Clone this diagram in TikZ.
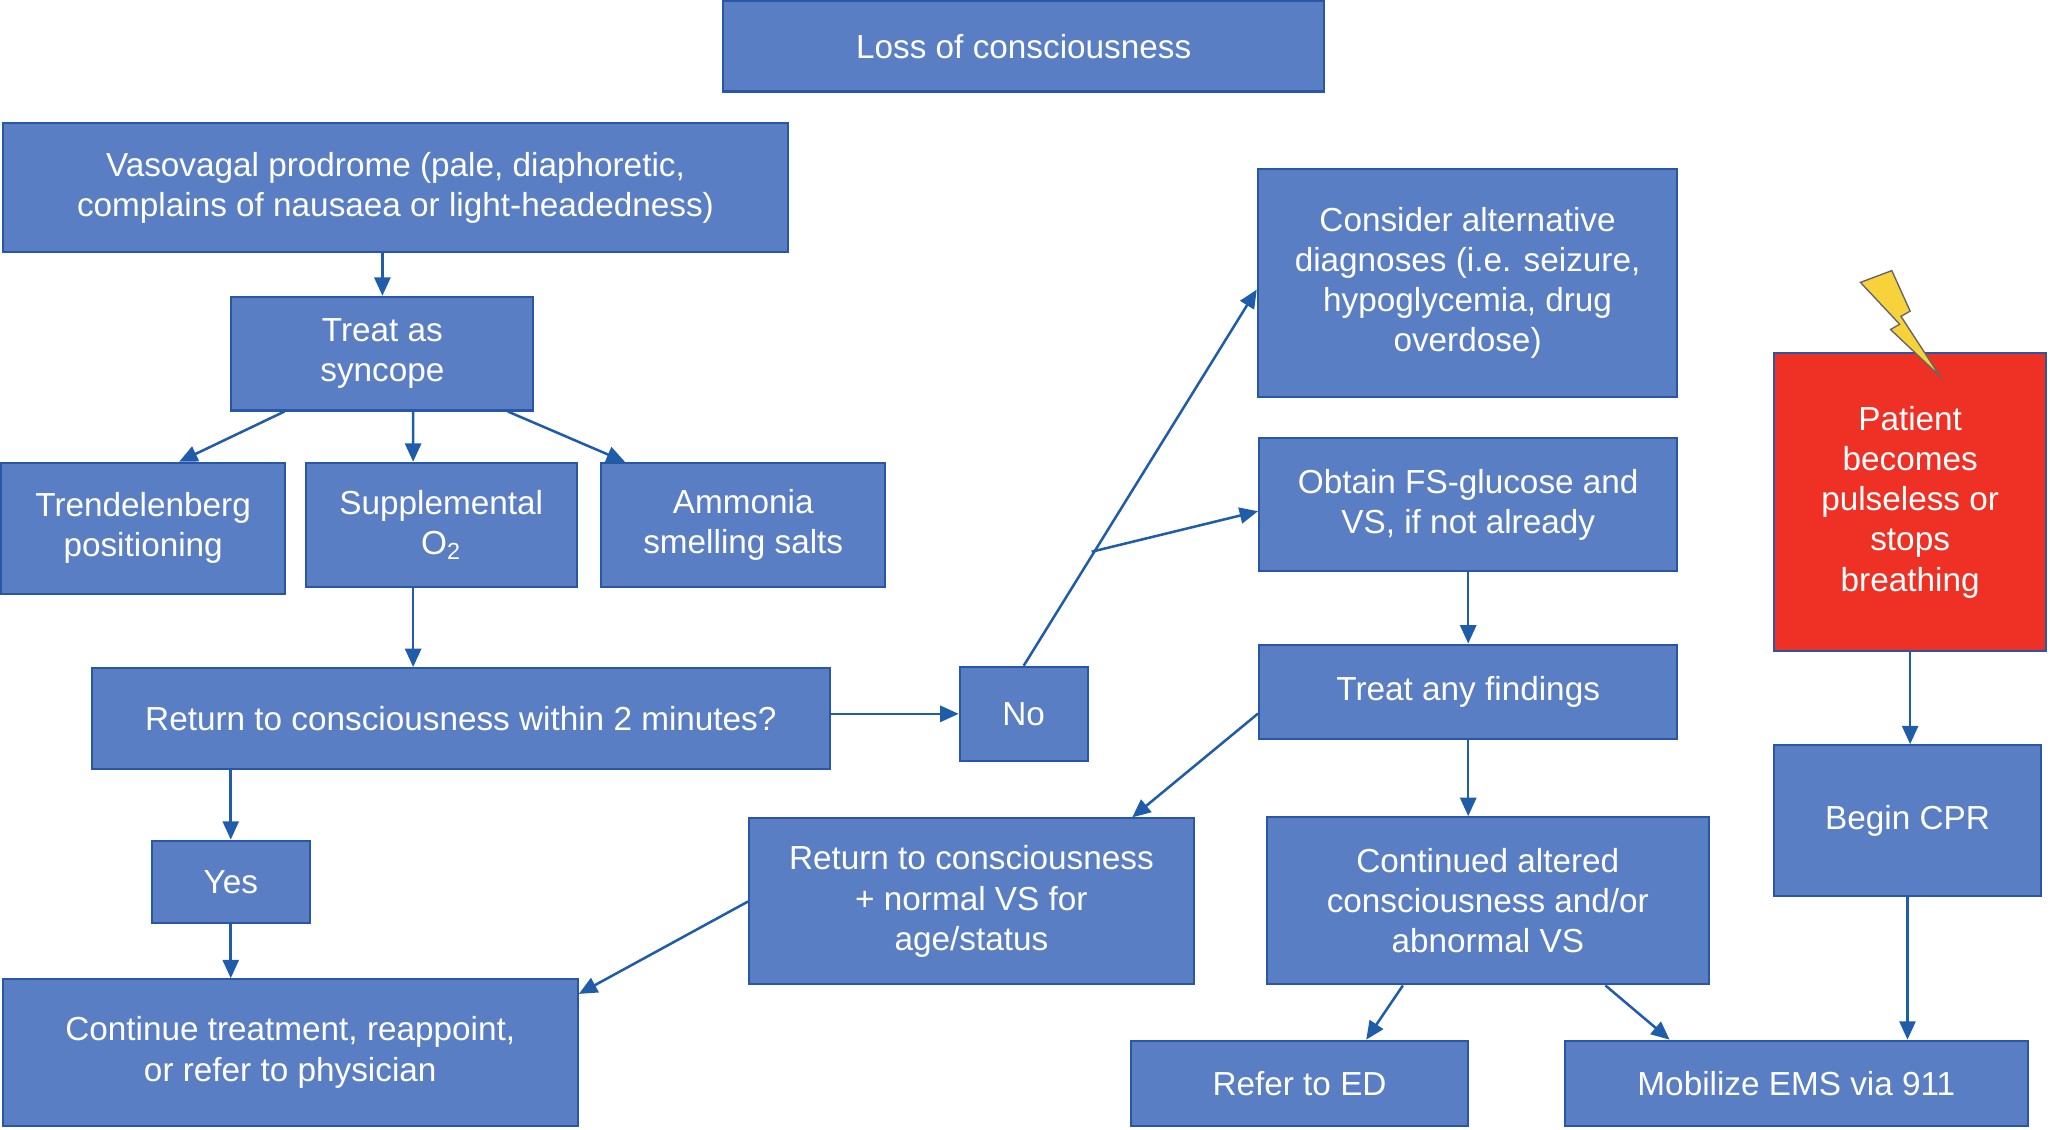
\documentclass[tikz,border=0pt]{standalone}
\usepackage{fontspec}
\setmainfont{Liberation Sans}
\usetikzlibrary{arrows.meta}
\usetikzlibrary{calc}
\definecolor{boxblue}{HTML}{5A7EC4}
\definecolor{boxline}{HTML}{2757A6}
\definecolor{arrowblue}{HTML}{1F5CAA}
\definecolor{alarmred}{HTML}{EE3124}
\definecolor{boltyellow}{HTML}{F7D23A}
\begin{document}
\begin{tikzpicture}[x=0.02cm, y=-0.02cm,
        box_style/.style={draw=boxline, line width=0.9pt, fill=boxblue, text=white, align=center,
            font=\fontsize{14.5}{17.5}\selectfont, inner sep=0pt},
        alarm_style/.style={box_style, fill=alarmred, draw=boxline},
        edge_style/.style={draw=arrowblue, line width=1.1pt, -{Triangle[width=7pt,length=8pt]}}]

        \useasboundingbox (0,0) rectangle (1568,864);

        \node [box_style, minimum width=9.2cm, minimum height=1.38cm](loss) at (783,35.5) {Loss of consciousness};
        \node [box_style, minimum width=12.02cm, minimum height=1.98cm](vaso) at (302.5,143.5) {Vasovagal prodrome (pale, diaphoretic,\\complains of nausaea or light-headedness)};
        \node [box_style, minimum width=4.62cm, minimum height=1.74cm](treat) at (292.5,270.5) {Treat as\\syncope};
        \node [box_style, minimum width=4.34cm, minimum height=2cm](trend) at (109.5,404) {Trendelenberg\\positioning};
        \node [box_style, minimum width=4.14cm, minimum height=1.9cm](supp) at (337.5,401.5) {Supplemental\\O\textsubscript{2}};
        \node [box_style, minimum width=4.34cm, minimum height=1.9cm](ammo) at (568.5,401.5) {Ammonia\\smelling salts};
        \node [box_style, minimum width=11.3cm, minimum height=1.54cm](ret) at (352.5,549.5) {Return to consciousness within 2 minutes?};
        \node [box_style, minimum width=1.96cm, minimum height=1.44cm](no) at (783,546) {No};
        \node [box_style, minimum width=2.42cm, minimum height=1.26cm](yes) at (176.5,674.5) {Yes};
        \node [box_style, minimum width=8.8cm, minimum height=2.24cm](cont) at (222,805) {Continue treatment, reappoint,\\or refer to physician};
        \node [box_style, minimum width=6.42cm, minimum height=3.5cm](alt) at (1122.5,216.5) {Consider alternative\\diagnoses (i.e. seizure,\\hypoglycemia, drug\\overdose)};
        \node [box_style, minimum width=6.4cm, minimum height=2.04cm](obtain) at (1123,386) {Obtain FS-glucose and\\VS, if not already};
        \node [box_style, minimum width=6.4cm, minimum height=1.44cm](anyf) at (1123,529) {Treat any findings};
        \node [box_style, minimum width=6.8cm, minimum height=2.54cm](retn) at (743,689.5) {Return to consciousness\\+ normal VS for\\age/status};
        \node [box_style, minimum width=6.76cm, minimum height=2.56cm](contalt) at (1138,689) {Continued altered\\consciousness and/or\\abnormal VS};
        \node [box_style, minimum width=5.16cm, minimum height=1.3cm](refer) at (994,828.5) {Refer to ED};
        \node [box_style, minimum width=7.08cm, minimum height=1.3cm](mob) at (1374,828.5) {Mobilize EMS via 911};
        \node [alarm_style, minimum width=4.16cm, minimum height=4.56cm](patient) at (1461,384) {Patient\\becomes\\pulseless or\\stops\\breathing};
        \node [box_style, minimum width=4.08cm, minimum height=2.3cm](cpr) at (1459,627.5) {Begin CPR};

        % lightning bolt
        \draw [draw=black!60, fill=boltyellow, line width=0.6pt]
            (1423,216) -- (1447,207) -- (1461,238) -- (1454,242) -- (1484,288)
            -- (1446,252) -- (1453,248) -- cycle;

        \coordinate (fork) at (835,422);
        \coordinate (supp_out) at ([xshift=-0.43cm]supp.south);

        \draw [edge_style] (vaso.south -| treat.north) -- (treat.north);
        \draw [edge_style] ([xshift=-1.5cm]treat.south) -- ([xshift=0.55cm]trend.north);
        \draw [edge_style] ([xshift=0.47cm]treat.south) -- ([xshift=-0.43cm]supp.north);
        \draw [edge_style] ([xshift=1.92cm]treat.south) -- ([xshift=-1.81cm]ammo.north);
        \draw [edge_style] (supp_out) -- (supp_out |- ret.north);
        \draw [edge_style] (ret.east |- no.west) -- (no.west);
        \draw [edge_style] (yes.north |- ret.south) -- (yes.north);
        \draw [edge_style] (yes.south) -- (yes.south |- cont.north);
        \draw [edge_style] (no.north) -- ([yshift=-0.1cm]alt.west);
        \draw [edge_style] (fork) -- ([yshift=-0.1cm]obtain.west);
        \draw [edge_style] ([yshift=0.4cm]anyf.south west) -- ([xshift=2.46cm]retn.north);
        \draw [edge_style] (obtain.south) -- (anyf.north);
        \draw [edge_style] (anyf.south) -- (anyf.south |- contalt.north);
        \draw [edge_style] (retn.west) -- ([yshift=-0.24cm]cont.north east);
        \draw [edge_style] ([xshift=-1.3cm]contalt.south) -- ([xshift=1.02cm]refer.north);
        \draw [edge_style] ([xshift=1.8cm]contalt.south) -- ([xshift=-1.94cm]mob.north);
        \draw [edge_style] (patient.south) -- (patient.south |- cpr.north);
        \draw [edge_style] (cpr.south) -- (cpr.south |- mob.north);
        \end{tikzpicture}
\end{document}
